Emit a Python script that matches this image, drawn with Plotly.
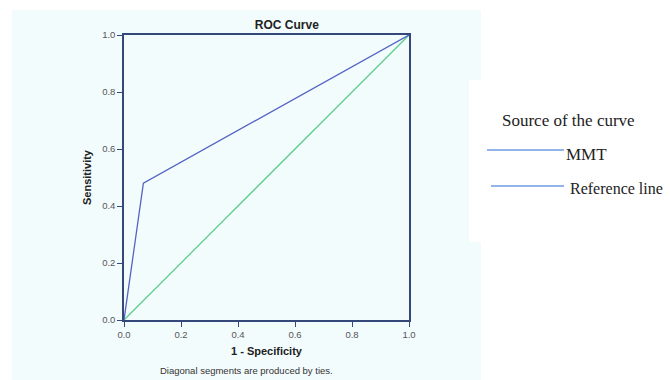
import plotly.graph_objects as go

# Data
mmt_fpr = [0.0, 0.068, 1.0]
mmt_tpr = [0.0, 0.48, 1.0]
ref_x = [0.0, 1.0]
ref_y = [0.0, 1.0]
tick_vals = [0.0, 0.2, 0.4, 0.6, 0.8, 1.0]
tick_text = ["0.0", "0.2", "0.4", "0.6", "0.8", "1.0"]
legend_title = "Source of the curve"
legend_names = ["MMT", "Reference line"]

W, H = 670, 380
L, R, T, B = 124, 409, 35, 320

def px(x):
    return (x - L) / (R - L)

def py(y):
    return (B - y) / (B - T)

fig = go.Figure()
fig.add_trace(go.Scatter(x=ref_x, y=ref_y, mode="lines",
                         line=dict(color="#5CD08C", width=1.3), showlegend=False, hoverinfo="skip"))
fig.add_trace(go.Scatter(x=mmt_fpr, y=mmt_tpr, mode="lines",
                         line=dict(color="#5563C4", width=1.3), showlegend=False, hoverinfo="skip"))

axis_common = dict(range=[0, 1], tickvals=tick_vals, ticktext=tick_text,
                   showline=True, linecolor="#34497A", linewidth=1.5, mirror=True,
                   ticks="outside", ticklen=5, tickcolor="#34497A", tickwidth=1.2,
                   showgrid=False, zeroline=False,
                   tickfont=dict(family="Liberation Sans, Arial", size=9.5, color="#555555"))

fig.update_layout(
    width=W, height=H,
    margin=dict(l=L, r=W - R, t=T, b=H - B),
    paper_bgcolor="white", plot_bgcolor="#F3FCFD",
    showlegend=False,
    title=dict(text="<b>ROC Curve</b>", x=px(246), xanchor="center", y=1 - 25 / H, yanchor="middle",
               font=dict(family="Liberation Sans, Arial", size=12, color="#222222")),
    xaxis=dict(**axis_common,
               title=dict(text="<b>1 - Specificity</b>", standoff=8,
                          font=dict(family="Liberation Sans, Arial", size=11, color="#222222"))),
    yaxis=dict(**axis_common,
               title=dict(text="<b>Sensitivity</b>", standoff=8,
                          font=dict(family="Liberation Sans, Arial", size=11, color="#222222"))),
)

shapes = []
# tinted panel background
shapes.append(dict(type="rect", xref="paper", yref="paper", layer="below",
                   x0=px(12), x1=px(481), y0=py(380), y1=py(10),
                   fillcolor="#F3FCFD", line=dict(width=0)))
# white legend box
shapes.append(dict(type="rect", xref="paper", yref="paper", layer="below",
                   x0=px(469), x1=px(670), y0=py(242), y1=py(80),
                   fillcolor="white", line=dict(width=0)))
# legend lines
shapes.append(dict(type="line", xref="paper", yref="paper",
                   x0=px(487), x1=px(564), y0=py(150), y1=py(150),
                   line=dict(color="#6E9BE0", width=1.3)))
shapes.append(dict(type="line", xref="paper", yref="paper",
                   x0=px(491), x1=px(564), y0=py(186), y1=py(186),
                   line=dict(color="#6E9BE0", width=1.3)))
fig.update_layout(shapes=shapes)

serif = "Liberation Serif, DejaVu Serif, serif"
ann = [
    dict(text=legend_title, x=px(500), y=py(120), xanchor="left", yanchor="middle",
         font=dict(family=serif, size=17, color="#222222")),
    dict(text=legend_names[0], x=px(564), y=py(154), xanchor="left", yanchor="middle",
         font=dict(family=serif, size=17, color="#222222")),
    dict(text=legend_names[1], x=px(568), y=py(188), xanchor="left", yanchor="middle",
         font=dict(family=serif, size=16, color="#222222")),
    dict(text="Diagonal segments are produced by ties.", x=px(246), y=py(370),
         xanchor="center", yanchor="middle",
         font=dict(family="Liberation Sans, Arial", size=9.5, color="#333333")),
]
for a in ann:
    a.update(xref="paper", yref="paper", showarrow=False)
fig.update_layout(annotations=ann)

fig.write_html("out.html", config={"displayModeBar": False},
               post_script="document.body.style.margin='0';document.body.style.overflow='hidden';")
